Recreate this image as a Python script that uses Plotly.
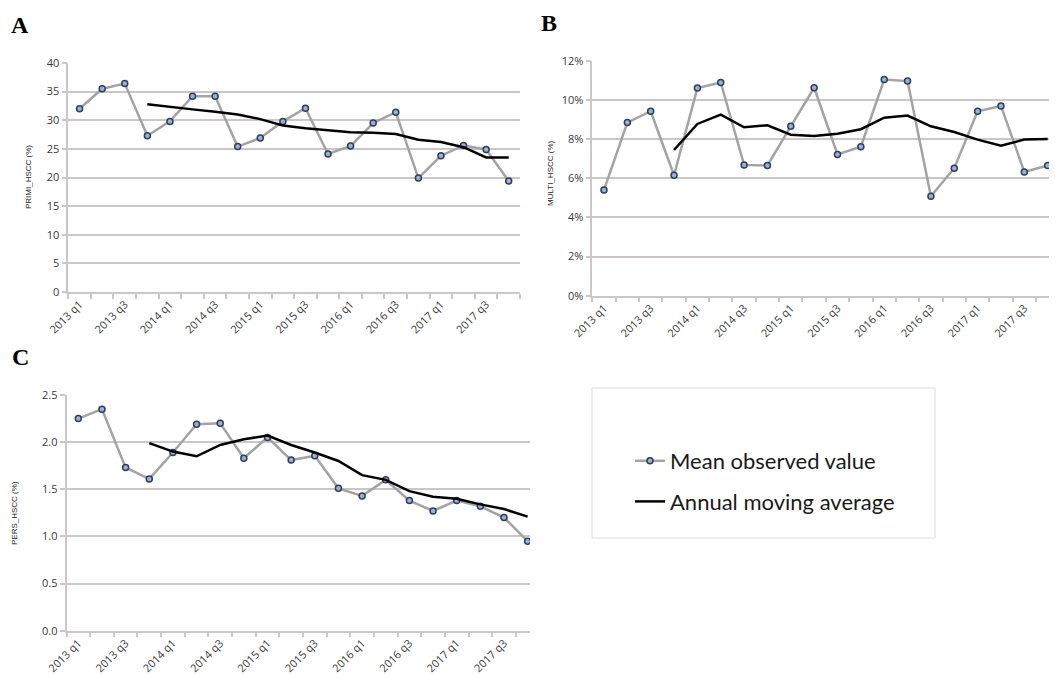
import plotly.graph_objects as go

# Page body has an 8px default margin, so the figure is sized to fit the window.
OFF = 8
W, H = 1057 - OFF, 675 - OFF

quarters = [f"{y} q{q}" for y in range(2013, 2018) for q in range(1, 5)]
tick_labels = ["2013 q1", "2013 q3", "2014 q1", "2014 q3", "2015 q1",
               "2015 q3", "2016 q1", "2016 q3", "2017 q1", "2017 q3"]

primi_obs = [32.0, 35.5, 36.4, 27.3, 29.8, 34.2, 34.2, 25.4, 26.9, 29.8,
             32.1, 24.1, 25.5, 29.5, 31.4, 19.9, 23.8, 25.6, 24.9, 19.4]
primi_ma = [32.8, 32.3, 31.9, 31.5, 31.0, 30.2, 29.1, 28.6, 28.2, 27.9,
            27.8, 27.6, 26.6, 26.2, 25.3, 23.5, 23.5]

multi_obs = [5.40, 8.84, 9.42, 6.15, 10.60, 10.89, 6.68, 6.65, 8.65, 10.62,
             7.21, 7.61, 11.04, 10.96, 5.08, 6.51, 9.42, 9.69, 6.32, 6.65]
multi_ma = [7.44, 8.77, 9.25, 8.60, 8.70, 8.22, 8.15, 8.27, 8.50, 9.09,
            9.20, 8.65, 8.36, 7.97, 7.66, 7.97, 8.00]

pers_obs = [2.25, 2.35, 1.73, 1.61, 1.89, 2.19, 2.20, 1.83, 2.05, 1.81,
            1.855, 1.51, 1.43, 1.60, 1.38, 1.27, 1.38, 1.32, 1.20, 0.95]
pers_ma = [1.99, 1.90, 1.85, 1.97, 2.03, 2.07, 1.97, 1.89, 1.80, 1.65,
           1.60, 1.48, 1.42, 1.40, 1.34, 1.29, 1.21]

ma_x = quarters[3:]

OBS_COLOR = "#a3a3a3"
GRID = "#cdc6c6"
TICKFONT = dict(family="Open Sans, Liberation Sans, sans-serif", size=11, color="#3a3a3a")

fig = go.Figure()

panels = [
    ("x", "y", primi_obs, primi_ma, True),
    ("x2", "y2", multi_obs, multi_ma, False),
    ("x3", "y3", pers_obs, pers_ma, False),
]
for xa, ya, obs, ma, show in panels:
    fig.add_trace(go.Scatter(
        x=quarters, y=obs, xaxis=xa, yaxis=ya, mode="lines+markers",
        name="Mean observed value", legendgroup="obs", showlegend=show,
        line=dict(color=OBS_COLOR, width=2.5),
        marker=dict(symbol="circle", size=6, color="#9fb0c8",
                    line=dict(color="#2b3f66", width=1.5)),
    ))
    fig.add_trace(go.Scatter(
        x=ma_x, y=ma, xaxis=xa, yaxis=ya, mode="lines",
        name="Annual moving average", legendgroup="ma", showlegend=show,
        line=dict(color="#000000", width=2.5),
    ))

def px_x(v):
    return min(1.0, (v - OFF) / W)

def px_y(v):
    return 1 - (v - OFF) / H

ticktext = [q if q in tick_labels else "" for q in quarters]

def xaxis(domain, rng, anchor):
    return dict(
        domain=domain, anchor=anchor, type="category",
        categoryorder="array", categoryarray=quarters,
        range=rng, tickmode="array", tickvals=quarters, ticktext=ticktext,
        tickson="boundaries", ticks="outside", ticklen=5, tickcolor=GRID,
        tickwidth=1.5, tickangle=-45, tickfont=TICKFONT, automargin=False,
        showline=True, linecolor=GRID, linewidth=1.5, showgrid=False,
        zeroline=False,
    )

def yaxis(domain, rng, dtick, anchor, **kw):
    d = dict(
        domain=domain, anchor=anchor, range=rng, dtick=dtick, tick0=0,
        ticks="outside", ticklen=5, tickcolor=GRID, tickwidth=1.5,
        tickfont=TICKFONT, showline=True, linecolor=GRID, linewidth=1.5,
        showgrid=True, gridcolor=GRID, gridwidth=1.5, zeroline=False,
        automargin=False,
    )
    d.update(kw)
    return d

fig.update_layout(
    width=W, height=H,
    margin=dict(l=0, r=0, t=0, b=0, autoexpand=False),
    paper_bgcolor="white", plot_bgcolor="white",
    xaxis=xaxis([px_x(68.3), px_x(520)], [-0.5, 19.5], "y"),
    yaxis=yaxis([px_y(292), px_y(63)], [0, 40], 5, "x"),
    xaxis2=xaxis([px_x(592.3), 1.0], [-0.5, 19.4], "y2"),
    yaxis2=yaxis([px_y(295.7), px_y(60.7)], [0, 12], 2, "x2", ticksuffix="%"),
    xaxis3=xaxis([px_x(66.5), px_x(530)], [-0.5, 19.1], "y3"),
    yaxis3=yaxis([px_y(630.7), px_y(395)], [0, 2.5], 0.5, "x3", tickformat=".1f"),
    showlegend=True,
    legend=dict(
        x=px_x(630), y=px_y(440), xanchor="left", yanchor="top",
        font=dict(family="Lato, Open Sans, sans-serif", size=22, color="#1a1a1a"),
        traceorder="grouped", tracegroupgap=9, bgcolor="rgba(0,0,0,0)",
    ),
)

fig.add_shape(type="rect", xref="paper", yref="paper",
              x0=px_x(592), x1=px_x(935), y0=px_y(538), y1=px_y(388),
              line=dict(color="#dcdcdc", width=1), fillcolor="rgba(0,0,0,0)",
              layer="below")

letter_font = dict(family="Liberation Serif, DejaVu Serif, serif", size=24, color="black")
for txt, x, y in [("<b>A</b>", 20, 25), ("<b>B</b>", 549, 23), ("<b>C</b>", 20, 357)]:
    fig.add_annotation(text=txt, x=px_x(x), y=px_y(y), xref="paper", yref="paper",
                       showarrow=False, font=letter_font, xanchor="center", yanchor="middle")

title_font = dict(family="Liberation Sans, Arial, sans-serif", size=8, color="#222222")
for txt, x, y in [("PRIMI_HSCC (%)", 28, 177), ("MULTI_HSCC (%)", 551, 173), ("PERS_HSCC (%)", 14, 513)]:
    fig.add_annotation(text=txt, x=px_x(x), y=px_y(y), xref="paper", yref="paper",
                       showarrow=False, font=title_font, textangle=-90,
                       xanchor="center", yanchor="middle")

fig.write_html("out.html")
